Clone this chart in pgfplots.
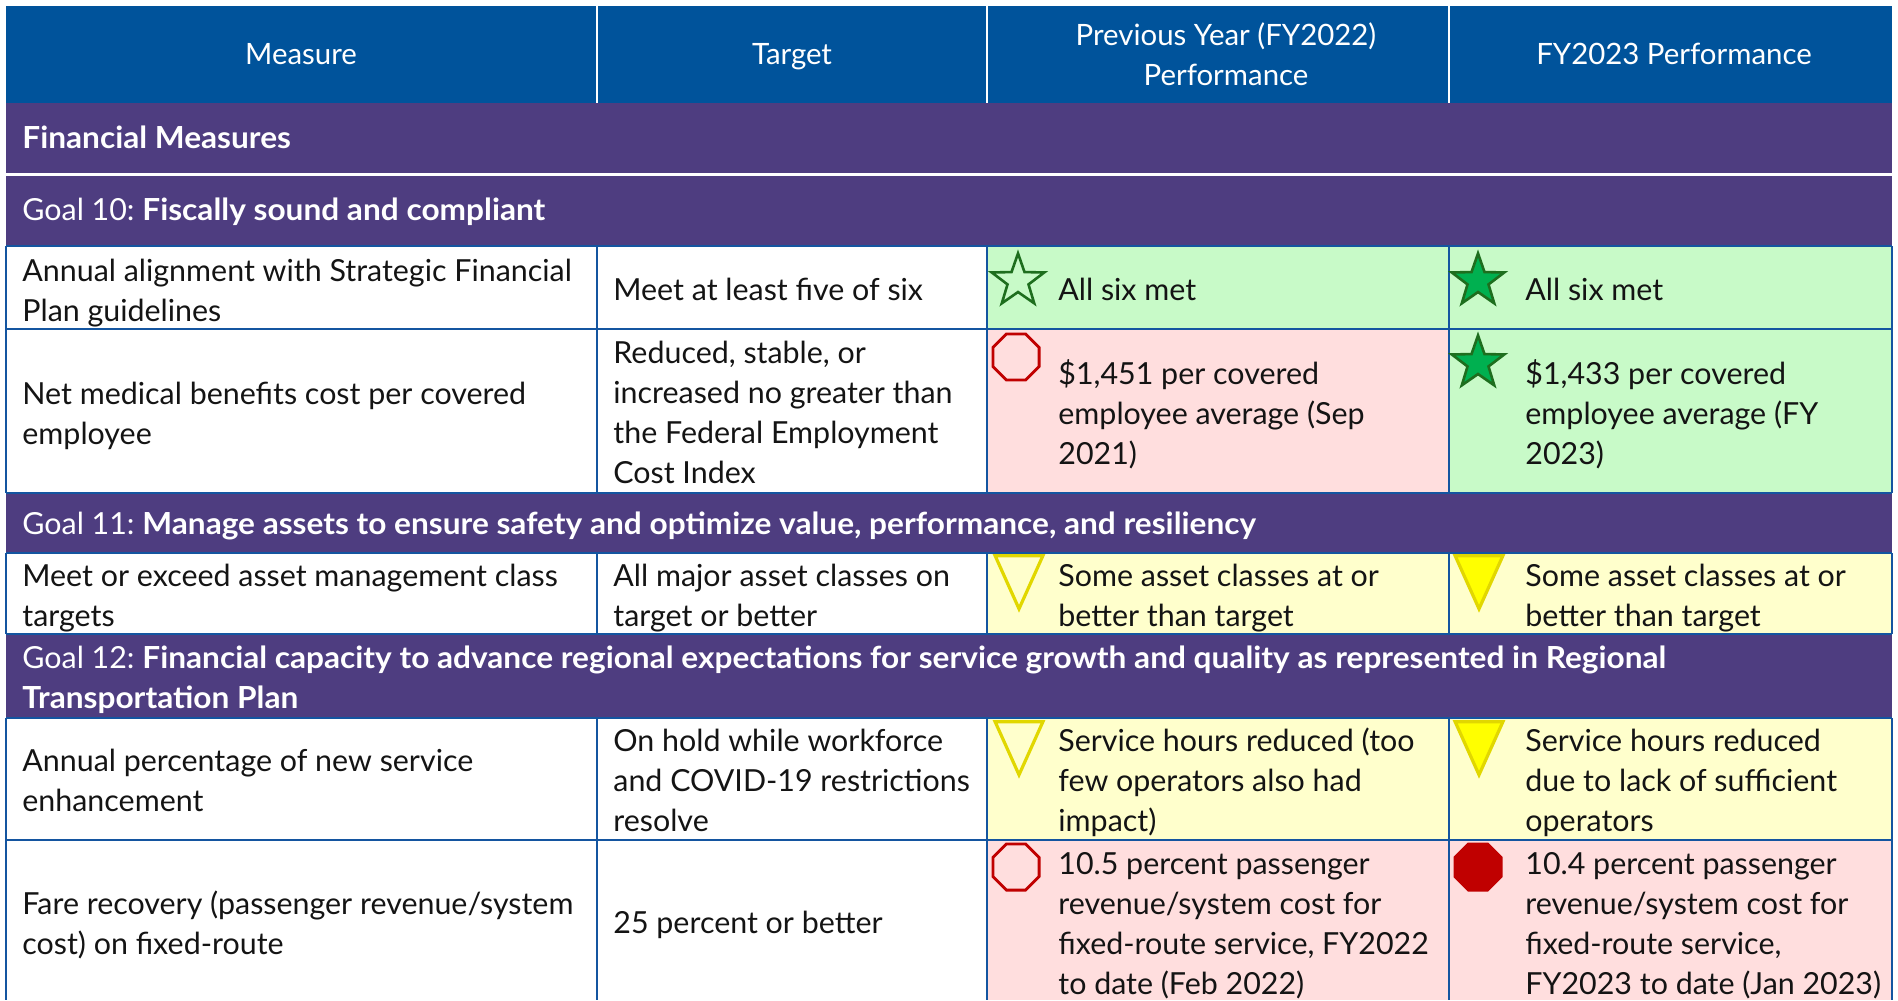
\documentclass[border=0pt]{standalone}
\usepackage{pgfplots}
\pgfplotsset{compat=1.18}
\usepackage{fontspec}
\setmainfont{Lato}[BoldFeatures={FakeStretch=1.04}]
\frenchspacing
\definecolor{hdrblue}{RGB}{0,83,155}
\definecolor{goalpurple}{RGB}{78,61,128}
\definecolor{gridblue}{RGB}{20,85,160}
\definecolor{cgreen}{RGB}{200,250,200}
\definecolor{cpink}{RGB}{255,222,222}
\definecolor{cyellow}{RGB}{255,255,204}
\definecolor{stardark}{RGB}{30,110,30}
\definecolor{starfill}{RGB}{0,176,80}
\definecolor{octred}{RGB}{192,0,0}
\definecolor{triyel}{RGB}{255,255,0}
\definecolor{triedge}{RGB}{225,215,0}
\definecolor{txt}{RGB}{20,20,20}
\pgfdeclareplotmark{star5}{%
  \pgfpathmoveto{\pgfpointpolar{90}{\pgfplotmarksize}}%
  \pgfpathlineto{\pgfpointpolar{126}{0.4\pgfplotmarksize}}%
  \pgfpathlineto{\pgfpointpolar{162}{\pgfplotmarksize}}%
  \pgfpathlineto{\pgfpointpolar{198}{0.4\pgfplotmarksize}}%
  \pgfpathlineto{\pgfpointpolar{234}{\pgfplotmarksize}}%
  \pgfpathlineto{\pgfpointpolar{270}{0.4\pgfplotmarksize}}%
  \pgfpathlineto{\pgfpointpolar{306}{\pgfplotmarksize}}%
  \pgfpathlineto{\pgfpointpolar{342}{0.4\pgfplotmarksize}}%
  \pgfpathlineto{\pgfpointpolar{18}{\pgfplotmarksize}}%
  \pgfpathlineto{\pgfpointpolar{54}{0.4\pgfplotmarksize}}%
  \pgfpathclose\pgfusepathqfillstroke}
\pgfdeclareplotmark{oct}{%
  \pgfpathmoveto{\pgfpointpolar{22.5}{\pgfplotmarksize}}%
  \pgfpathlineto{\pgfpointpolar{67.5}{\pgfplotmarksize}}%
  \pgfpathlineto{\pgfpointpolar{112.5}{\pgfplotmarksize}}%
  \pgfpathlineto{\pgfpointpolar{157.5}{\pgfplotmarksize}}%
  \pgfpathlineto{\pgfpointpolar{202.5}{\pgfplotmarksize}}%
  \pgfpathlineto{\pgfpointpolar{247.5}{\pgfplotmarksize}}%
  \pgfpathlineto{\pgfpointpolar{292.5}{\pgfplotmarksize}}%
  \pgfpathlineto{\pgfpointpolar{337.5}{\pgfplotmarksize}}%
  \pgfpathclose\pgfusepathqfillstroke}
\pgfdeclareplotmark{tridown}{%
  \pgfpathmoveto{\pgfpoint{-0.9\pgfplotmarksize}{0.95\pgfplotmarksize}}%
  \pgfpathlineto{\pgfpoint{0.9\pgfplotmarksize}{0.95\pgfplotmarksize}}%
  \pgfpathlineto{\pgfpoint{0pt}{-1.05\pgfplotmarksize}}%
  \pgfpathclose\pgfusepathqfillstroke}
\newcommand{\body}{\fontsize{15.2}{20}\selectfont}
\newcommand{\hdr}{\fontsize{14.7}{20}\selectfont}
\newcommand{\T}[3]{\node[anchor=mid west,inner sep=0pt,font=\body,text=txt] at (axis cs:#1,#2+6) {#3};}
\newcommand{\W}[3]{\node[anchor=mid west,inner sep=0pt,font=\body,text=white] at (axis cs:#1,#2+6) {#3};}
\newcommand{\C}[3]{\node[anchor=mid,inner sep=0pt,font=\hdr,text=white] at (axis cs:#1,#2+6) {#3};}
\newcommand{\V}[3]{\draw[gridblue,line width=1.3pt] (axis cs:#1,#2) -- (axis cs:#1,#3);}
\newcommand{\Hl}[1]{\draw[gridblue,line width=1.3pt] (axis cs:6,#1) -- (axis cs:1892,#1);}
\begin{document}
\begin{tikzpicture}
\begin{axis}[hide axis, scale only axis, width=949pt, height=500pt,
  xmin=0, xmax=1898, ymin=0, ymax=1000, y dir=reverse, clip=false]
\coordinate (TL) at (axis cs:0,0);
\coordinate (BR) at (axis cs:1898,1000);
% header and goal bands
\fill[hdrblue] (axis cs:6,6) rectangle (axis cs:1892,103);
\fill[goalpurple] (axis cs:6,103) rectangle (axis cs:1892,173);
\fill[goalpurple] (axis cs:6,176) rectangle (axis cs:1892,246);
\fill[goalpurple] (axis cs:6,493) rectangle (axis cs:1892,553);
\fill[goalpurple] (axis cs:6,634) rectangle (axis cs:1892,718);
% coloured cells
\fill[cgreen] (axis cs:987,246) rectangle (axis cs:1892,329);
\fill[cpink] (axis cs:987,329) rectangle (axis cs:1449,493);
\fill[cgreen] (axis cs:1449,329) rectangle (axis cs:1892,493);
\fill[cyellow] (axis cs:987,553) rectangle (axis cs:1892,634);
\fill[cyellow] (axis cs:987,718) rectangle (axis cs:1892,840);
\fill[cpink] (axis cs:987,840) rectangle (axis cs:1892,1000);
% white lines in header
\draw[white,line width=1.2pt] (axis cs:597,6) -- (axis cs:597,103);
\draw[white,line width=1.2pt] (axis cs:987,6) -- (axis cs:987,103);
\draw[white,line width=1.2pt] (axis cs:1449,6) -- (axis cs:1449,103);
\draw[white,line width=1.4pt] (axis cs:6,174.5) -- (axis cs:1892,174.5);
% grid lines
\Hl{246}\Hl{329}\Hl{493}\Hl{553}\Hl{634}\Hl{718}\Hl{840}
\V{6}{246}{493}\V{597}{246}{493}\V{987}{246}{493}\V{1449}{246}{493}\V{1892}{246}{493}
\V{6}{553}{634}\V{597}{553}{634}\V{987}{553}{634}\V{1449}{553}{634}\V{1892}{553}{634}
\V{6}{718}{1000}\V{597}{718}{1000}\V{987}{718}{1000}\V{1449}{718}{1000}\V{1892}{718}{1000}
% icons
\addplot[only marks, mark=star5, mark size=13.8pt, mark options={draw=stardark, fill=cgreen, line width=1.3pt}] coordinates {(1018,281)};
\addplot[only marks, mark=star5, mark size=13.8pt, mark options={draw=stardark, fill=starfill, line width=1.3pt}] coordinates {(1478,281) (1478,363)};
\addplot[only marks, mark=oct, mark size=12.5pt, mark options={draw=octred, fill=cpink, line width=1.4pt}] coordinates {(1016,357) (1016,867)};
\addplot[only marks, mark=oct, mark size=12.5pt, mark options={draw=octred, fill=octred, line width=1.4pt}] coordinates {(1478,867)};
\addplot[only marks, mark=tridown, mark size=13.25pt, mark options={draw=triedge, fill=cyellow, line width=1.6pt}] coordinates {(1019,581) (1019,747)};
\addplot[only marks, mark=tridown, mark size=13.25pt, mark options={draw=triedge, fill=triyel, line width=1.6pt}] coordinates {(1479,581) (1479,747)};
% header text
\C{301}{53}{Measure}
\C{792}{53}{Target}
\C{1226}{34}{Previous Year (FY2022)}
\C{1226}{74}{Performance}
\C{1674}{53}{FY2023 Performance}
% bands
\W{22}{137}{\bfseries Financial Measures}
\W{22}{209}{Goal 10: \textbf{Fiscally sound and compliant}}
\W{22}{523}{Goal 11: \textbf{Manage assets to ensure safety and optimize value, performance, and resiliency}}
\W{22}{657}{Goal 12: \textbf{Financial capacity to advance regional expectations for service growth and quality as represented in Regional}}
\W{22}{697}{\bfseries Transportation Plan}
% row 1
\T{22}{270}{Annual alignment with Strategic Financial}
\T{22}{310}{Plan guidelines}
\T{613}{289}{Meet at least five of six}
\T{1058}{289}{All six met}
\T{1525}{289}{All six met}
% row 2
\T{22}{393}{Net medical benefits cost per covered}
\T{22}{433}{employee}
\T{613}{352}{Reduced, stable, or}
\T{613}{392}{increased no greater than}
\T{613}{432}{the Federal Employment}
\T{613}{472}{Cost Index}
\T{1058}{373}{\$1,451 per covered}
\T{1058}{413}{employee average (Sep}
\T{1058}{453}{2021)}
\T{1525}{373}{\$1,433 per covered}
\T{1525}{413}{employee average (FY}
\T{1525}{453}{2023)}
% row 3
\T{22}{575}{Meet or exceed asset management class}
\T{22}{615}{targets}
\T{613}{575}{All major asset classes on}
\T{613}{615}{target or better}
\T{1058}{575}{Some asset classes at or}
\T{1058}{615}{better than target}
\T{1525}{575}{Some asset classes at or}
\T{1525}{615}{better than target}
% row 4
\T{22}{760}{Annual percentage of new service}
\T{22}{800}{enhancement}
\T{613}{740}{On hold while workforce}
\T{613}{780}{and COVID-19 restrictions}
\T{613}{820}{resolve}
\T{1058}{740}{Service hours reduced (too}
\T{1058}{780}{few operators also had}
\T{1058}{820}{impact)}
\T{1525}{740}{Service hours reduced}
\T{1525}{780}{due to lack of sufficient}
\T{1525}{820}{operators}
% row 5
\T{22}{903}{Fare recovery (passenger revenue/system}
\T{22}{943}{cost) on fixed-route}
\T{613}{922}{25 percent or better}
\T{1058}{863}{10.5 percent passenger}
\T{1058}{903}{revenue/system cost for}
\T{1058}{943}{fixed-route service, FY2022}
\T{1058}{983}{to date (Feb 2022)}
\T{1525}{863}{10.4 percent passenger}
\T{1525}{903}{revenue/system cost for}
\T{1525}{943}{fixed-route service,}
\T{1525}{983}{FY2023 to date (Jan 2023)}
\end{axis}
\pgfresetboundingbox
\path (TL) rectangle (BR);
\end{tikzpicture}
\end{document}
